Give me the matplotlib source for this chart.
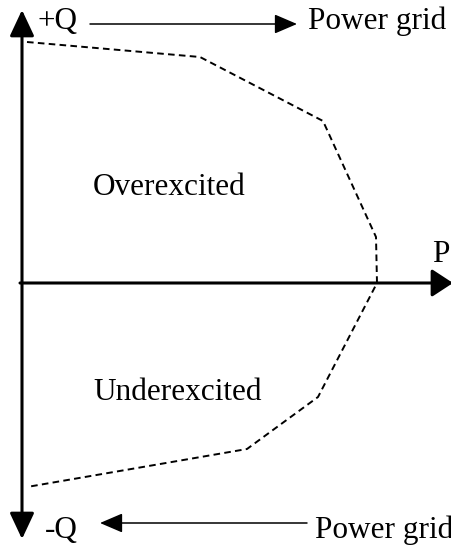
import matplotlib
matplotlib.use('Agg')
import matplotlib.pyplot as plt
from matplotlib.patches import FancyArrowPatch

# capability boundary (P, Q) in drawing units, origin at the axes crossing
boundary_p = [5, 178, 301, 354, 355, 296, 225, 5]
boundary_q = [241, 226, 162, 46, 0, -114, -166, -204]

region_labels = ['Overexcited', 'Underexcited']
axis_labels = ['+Q', '-Q', 'P']
flow_label = 'Power grid'

plt.rcParams['font.family'] = ['Liberation Serif', 'DejaVu Serif']

fig = plt.figure(figsize=(4.52, 5.45), dpi=100)
ax = fig.add_axes([0, 0, 1, 1])
ax.set_xlim(-22, 430)
ax.set_ylim(-262, 283)
ax.axis('off')

fs = 22.5


def arrow(p0, p1, style, lw, hl, hw):
    a = FancyArrowPatch(p0, p1, arrowstyle=f'{style},head_length={hl},head_width={hw}',
                        color='k', lw=lw, mutation_scale=1, shrinkA=0, shrinkB=0)
    ax.add_patch(a)


# axes
arrow((0, -256), (0, 273), '<|-|>', 2.2, 16, 7.5)
arrow((-2, 0), (431, 0), '-|>', 2.2, 13, 8.5)

# boundary
ax.plot(boundary_p, boundary_q, color='k', lw=1.4, linestyle=(0, (3.4, 2.2)))

# power flow arrows
arrow((68, 259), (275, 259), '-|>', 1.1, 14, 6)
arrow((285, -240), (78, -240), '-|>', 1.1, 14, 6)

# texts
ax.text(16, 254, axis_labels[0], fontsize=fs, ha='left', va='baseline')
ax.text(23, -255, axis_labels[1], fontsize=fs, ha='left', va='baseline')
ax.text(410, 21, axis_labels[2], fontsize=fs, ha='left', va='baseline')
ax.text(286, 254, flow_label, fontsize=fs, ha='left', va='baseline')
ax.text(293, -255, flow_label, fontsize=fs, ha='left', va='baseline')
ax.text(71, 88, region_labels[0], fontsize=fs, ha='left', va='baseline')
ax.text(71, -117, region_labels[1], fontsize=fs, ha='left', va='baseline')

fig.savefig('out.png', dpi=100)
